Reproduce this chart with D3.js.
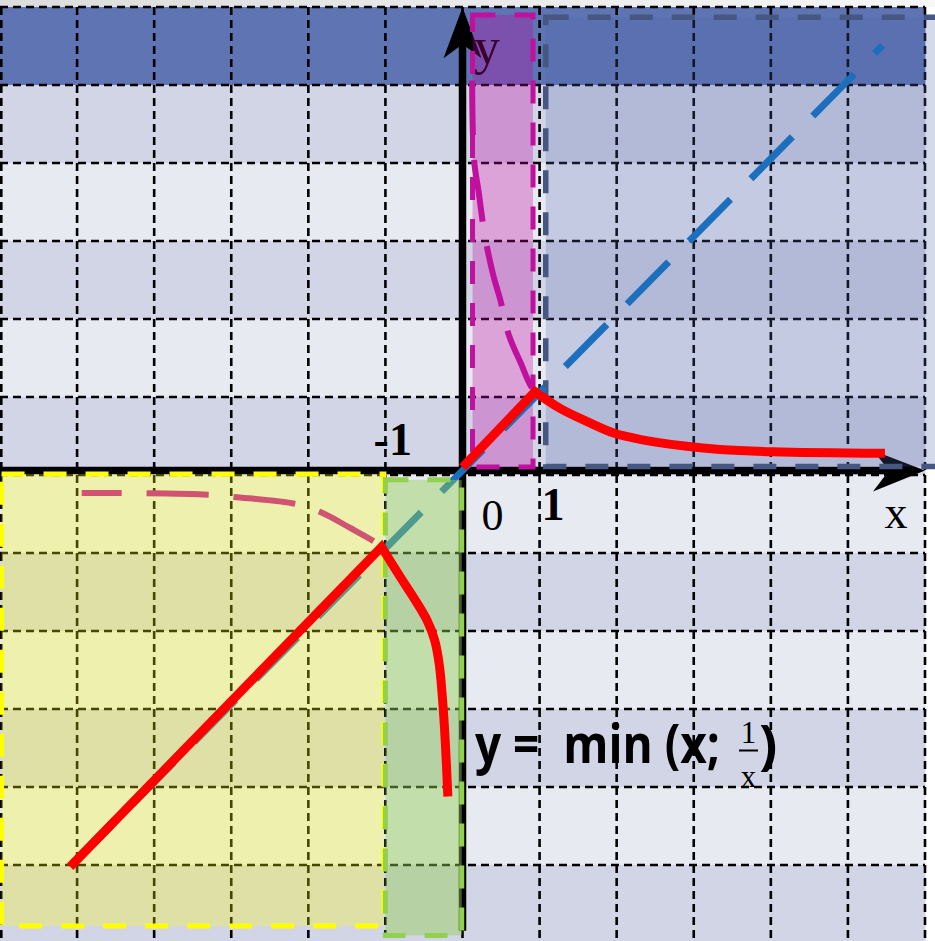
<!DOCTYPE html>
<html>
<head>
<meta charset="utf-8">
<script src="https://cdn.jsdelivr.net/npm/d3@7"></script>
<style>
  html, body { margin: 0; padding: 0; background: #ffffff; overflow: hidden; }
  svg { display: block; }
</style>
</head>
<body>
<svg id="chart" width="935" height="941"></svg>
<script>
// ---- coordinate plane ----
const xDomain = [-6, 6];
const yDomain = [-6, 6];

// backdrop table: 12 columns x 12 rows (first row is a header band)
const tableCols = d3.range(12);
const tableRows = d3.range(12);

// shaded regions, in plane units
const regionNames = ["right", "strip", "left", "band"];
const regionX = [[1.08, 6.2], [0.13, 0.915], [-5.98, -1.02], [-1.0, -0.01]];
const regionY = [[0.05, 5.81], [0.045, 5.84], [-0.045, -5.84], [-0.12, -5.96]];

// y = x
const diagonal = [[-5.0, -5.0], [5.45, 5.45]];

// y = 1/x, both branches
const recipPos = [[0.125, 5.0], [0.15, 3.98], [0.21, 3.57], [0.29, 3.01], [0.40, 2.50], [0.49, 2.19],
  [0.60, 1.74], [0.75, 1.39], [0.94, 1.01], [1.26, 0.80], [1.61, 0.63], [1.96, 0.48], [2.30, 0.40],
  [2.91, 0.31], [3.34, 0.27], [4.03, 0.24], [5.3, 0.22]];
const recipNeg = [[-4.94, -0.29], [-4.42, -0.29], [-3.29, -0.31], [-2.96, -0.34], [-2.16, -0.43],
  [-1.85, -0.53], [-1.45, -0.74], [-1.13, -0.92], [-1.05, -0.98], [-0.81, -1.36], [-0.64, -1.62],
  [-0.46, -1.92], [-0.36, -2.18], [-0.30, -2.50], [-0.24, -3.20], [-0.19, -4.18]];

// y = min(x; 1/x)
const minRayPos = [[0, 0.04], [0.94, 1.01]];
const minHypPos = [[0.94, 1.01], [1.26, 0.80], [1.61, 0.63], [1.96, 0.48], [2.30, 0.40], [2.91, 0.31],
  [3.34, 0.27], [4.03, 0.24], [5.48, 0.22]];
const minRayNeg = [[-5.09, -5.08], [-1.05, -0.98]];
const minHypNeg = [[-1.05, -0.98], [-0.81, -1.36], [-0.64, -1.62], [-0.46, -1.92], [-0.36, -2.18],
  [-0.30, -2.50], [-0.24, -3.20], [-0.19, -4.18]];

// axis labels
const tickLabels = ["0", "1", "-1"];
const axisNames = ["x", "y"];

// ---- scales ----
const svg = d3.select("#chart");
const x = d3.scaleLinear().domain(xDomain).range([0, 925]);
const y = d3.scaleLinear().domain(yDomain).range([938.5, 2.5]);
const colBand = d3.scaleBand().domain(tableCols).range([0, 925]);
const rowBand = d3.scaleBand().domain(tableRows).range([7, 943]);

const straight = d3.line().x(d => x(d[0])).y(d => y(d[1]));
const smooth = d3.line().x(d => x(d[0])).y(d => y(d[1])).curve(d3.curveCatmullRom.alpha(0.5));

// ---- backdrop ----
const defs = svg.append("defs");
const topGrad = defs.append("linearGradient").attr("id", "topfade");
topGrad.append("stop").attr("offset", "0%").attr("stop-color", "#dcdcdc");
topGrad.append("stop").attr("offset", "100%").attr("stop-color", "#f7f7f7");
svg.append("rect").attr("x", 0).attr("y", 0).attr("width", 935).attr("height", 7)
  .attr("fill", "url(#topfade)");

const rowFill = r => r === 0 ? "#5e74b3" : (r % 2 === 1 ? "#d2d5e6" : "#e8eaf2");
const cells = [];
tableRows.forEach(r => tableCols.forEach(c => cells.push({ r, c })));
svg.append("g").selectAll("rect").data(cells).join("rect")
  .attr("x", d => colBand(d.c)).attr("y", d => rowBand(d.r))
  .attr("width", colBand.bandwidth() + 0.5).attr("height", rowBand.bandwidth() + 0.5)
  .attr("fill", d => rowFill(d.r));

const grid = svg.append("g").attr("stroke", "#000").attr("stroke-width", 2.6)
  .attr("stroke-dasharray", "8,5").attr("fill", "none");
const colEdges = tableCols.map(c => colBand(c)).concat([925]);
const rowEdges = tableRows.map(r => rowBand(r)).concat([943]);
grid.selectAll("line.v").data(colEdges).join("line").attr("class", "v")
  .attr("x1", d => Math.max(d, 1.3)).attr("x2", d => Math.max(d, 1.3)).attr("y1", 7).attr("y2", 943);
grid.selectAll("line.h").data(rowEdges).join("line").attr("class", "h")
  .attr("x1", 0).attr("x2", 925).attr("y1", d => d).attr("y2", d => d);

// ---- axes ----
const axes = svg.append("g");
axes.append("line").attr("x1", x(-6)).attr("x2", x(6) - 30).attr("y1", y(0)).attr("y2", y(0))
  .attr("stroke", "#000").attr("stroke-width", 7.5);
axes.append("line").attr("x1", x(0)).attr("x2", x(0)).attr("y1", y(-5.9)).attr("y2", y(5.94) + 30)
  .attr("stroke", "#000").attr("stroke-width", 7.5);
// arrowheads
const tipX = [x(6), y(0)];
const tipY = [x(0), y(5.94)];
axes.append("path").attr("fill", "#000")
  .attr("d", `M${tipX[0]},${tipX[1]} L${tipX[0] - 52},${tipX[1] - 20} L${tipX[0] - 36},${tipX[1]} L${tipX[0] - 52},${tipX[1] + 21} Z`);
axes.append("path").attr("fill", "#000")
  .attr("d", `M${tipY[0]},${tipY[1]} L${tipY[0] - 19},${tipY[1] + 51} L${tipY[0]},${tipY[1] + 37} L${tipY[0] + 19},${tipY[1] + 51} Z`);

const serif = "'Liberation Serif', 'Times New Roman', serif";
axes.append("text").text(tickLabels[0]).attr("x", x(0) + 30).attr("y", y(0) + 59.5)
  .attr("text-anchor", "middle").attr("font-family", serif).attr("font-size", 44).attr("fill", "#000");
axes.append("text").text(tickLabels[1]).attr("x", x(1) + 13.5).attr("y", y(0) + 49.5)
  .attr("text-anchor", "middle").attr("font-family", serif).attr("font-weight", "bold")
  .attr("font-size", 46).attr("fill", "#000");
axes.append("text").text(tickLabels[2]).attr("x", x(-1) + 26.5).attr("y", y(0) - 15.5)
  .attr("text-anchor", "end").attr("font-family", serif).attr("font-weight", "bold")
  .attr("font-size", 46).attr("fill", "#000");
axes.append("text").text(axisNames[0]).attr("x", x(6) - 29).attr("y", y(0) + 57.5)
  .attr("text-anchor", "middle").attr("font-family", serif).attr("font-size", 46).attr("fill", "#000");
axes.append("text").text(axisNames[1]).attr("x", x(0) + 11.5).attr("y", 64)
  .attr("font-family", serif).attr("font-size", 52).attr("fill", "#000");

// ---- shaded regions ----
const regionStyle = {
  right: { fill: "rgba(80,100,170,0.24)", stroke: "#465882", width: 5.5 },
  strip: { fill: "rgba(192,0,160,0.30)", stroke: "#c0119e", width: 5 },
  left:  { fill: "rgba(255,255,0,0.28)", stroke: "#ffff00", width: 5 },
  band:  { fill: "rgba(146,208,80,0.44)", stroke: "#92d050", width: 5 }
};
const regions = regionNames.map((name, i) => ({ name, x0: regionX[i][0], x1: regionX[i][1], y0: regionY[i][0], y1: regionY[i][1] }));
function drawRegion(reg) {
  const s = regionStyle[reg.name];
  svg.append("rect")
    .attr("x", Math.min(x(reg.x0), x(reg.x1)))
    .attr("y", Math.min(y(reg.y0), y(reg.y1)))
    .attr("width", Math.abs(x(reg.x1) - x(reg.x0)))
    .attr("height", Math.abs(y(reg.y1) - y(reg.y0)))
    .attr("fill", s.fill).attr("stroke", s.stroke).attr("stroke-width", s.width)
    .attr("stroke-dasharray", "23,19");
}
drawRegion(regions[0]);
drawRegion(regions[1]);

// y = x, dashed
svg.append("path").attr("d", straight(diagonal)).attr("fill", "none")
  .attr("stroke", "#1c6fbd").attr("stroke-width", 7)
  .attr("stroke-dasharray", "59,29").attr("stroke-dashoffset", 9.4);

// y = 1/x, dashed
svg.append("path").attr("d", smooth(recipPos)).attr("fill", "none")
  .attr("stroke", "#c0119e").attr("stroke-width", 6)
  .attr("stroke-dasharray", "62,25").attr("stroke-dashoffset", 7.4);
svg.append("path").attr("d", smooth(recipNeg)).attr("fill", "none")
  .attr("stroke", "#c0119e").attr("stroke-width", 6)
  .attr("stroke-dasharray", "62,25").attr("stroke-dashoffset", 22);

drawRegion(regions[2]);
drawRegion(regions[3]);

// y = min(x; 1/x): a ray joined to a hyperbola arc, on each side
function rayThenArc(ray, arc) {
  return straight([ray[0]]) + smooth(arc).replace(/^M/, "L");
}
[[minRayPos, minHypPos], [minRayNeg, minHypNeg]].forEach(([ray, arc]) => {
  svg.append("path").attr("d", rayThenArc(ray, arc)).attr("fill", "none")
    .attr("stroke", "#ff0000").attr("stroke-width", 9)
    .attr("stroke-linejoin", "miter").attr("stroke-miterlimit", 10).attr("stroke-linecap", "butt");
});

// ---- formula ----
const sans = "'Open Sans', 'Liberation Sans', sans-serif";
const formula = svg.append("g").attr("fill", "#000");
// main part, squeezed horizontally to a fixed run width
const lead = formula.append("g");
const leadText = lead.append("text").text("y =  min (x;").attr("x", 0).attr("y", 0)
  .style("white-space", "pre").attr("font-family", sans).attr("font-weight", "bold")
  .attr("font-size", 54);
const natural = leadText.node().getComputedTextLength();
lead.attr("transform", `translate(475,763) scale(${245 / natural},1)`);

formula.append("text").text("1").attr("x", 748.5).attr("y", 743).attr("text-anchor", "middle")
  .attr("font-family", serif).attr("font-size", 31);
formula.append("line").attr("x1", 739).attr("x2", 758).attr("y1", 750.5).attr("y2", 750.5)
  .attr("stroke", "#000").attr("stroke-width", 2);
formula.append("text").text("x").attr("x", 748.5).attr("y", 787).attr("text-anchor", "middle")
  .attr("font-family", serif).attr("font-size", 31);
formula.append("text").text(")").attr("x", 759).attr("y", 764)
  .attr("font-family", sans).attr("font-weight", "bold").attr("font-size", 54);
</script>
</body>
</html>
